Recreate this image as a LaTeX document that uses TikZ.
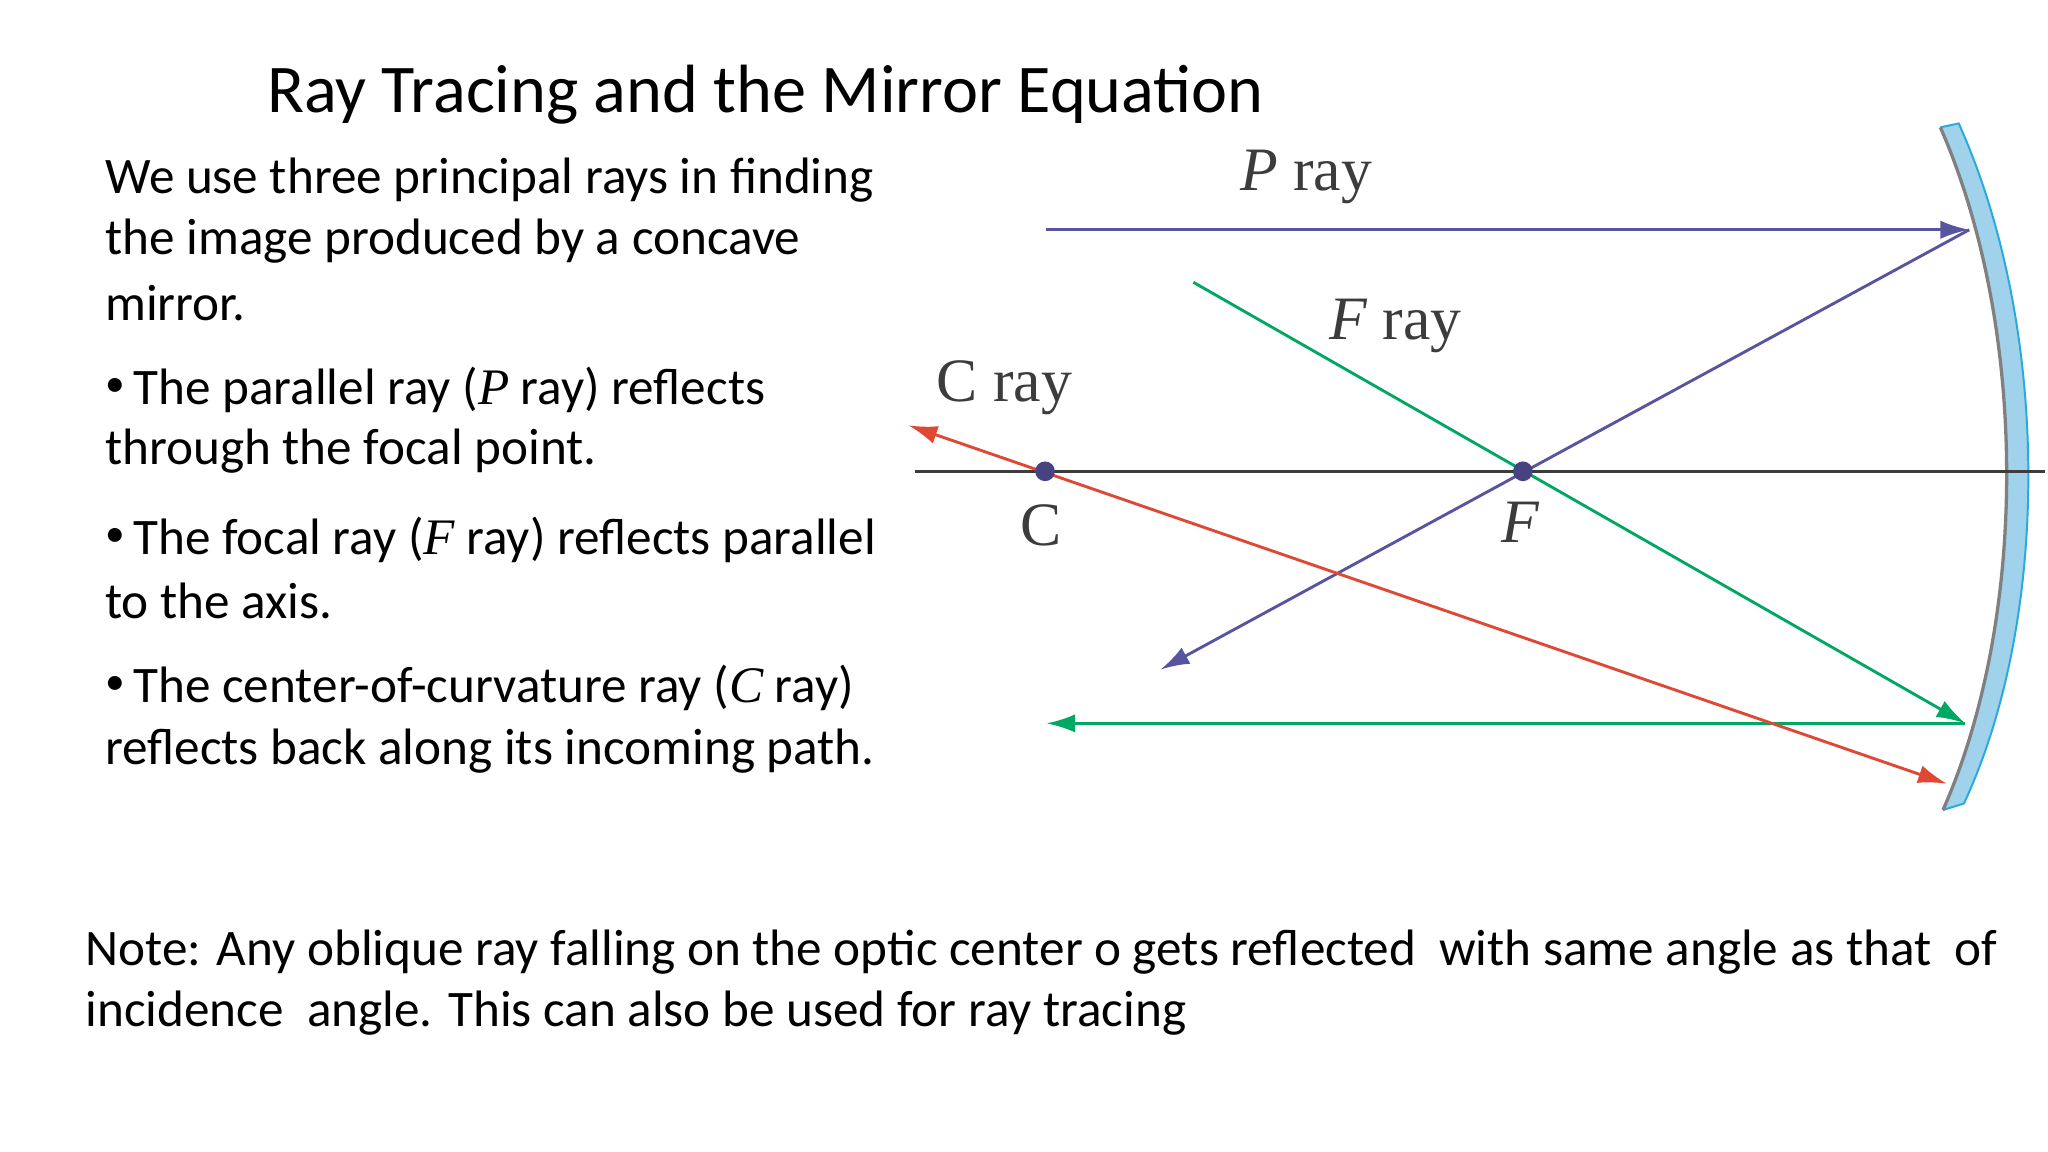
\documentclass[tikz,border=0pt]{standalone}
\usepackage{fontspec}
\setmainfont{Carlito}
\newfontfamily\serifl{Liberation Serif}
\usetikzlibrary{arrows.meta}
\definecolor{pray}{RGB}{88,84,160}
\definecolor{fray}{RGB}{0,168,100}
\definecolor{cray}{RGB}{222,72,52}
\definecolor{axisc}{RGB}{60,60,60}
\definecolor{mirfill}{RGB}{160,210,235}
\definecolor{miredge}{RGB}{40,170,220}
\newcommand{\bul}{\raisebox{6pt}{\fontsize{30}{30}\selectfont\textbullet}\,}
\tikzset{
 ray/.style={line width=2.2pt,-{Latex[length=22pt,width=14pt]}},
 body/.style={anchor=west,font=\fontsize{39}{44}\selectfont,inner sep=0pt},
 lab/.style={font=\serifl\fontsize{47}{50}\selectfont,text=axisc,inner sep=0pt},
 dot/.style={circle,fill=pray!80!black,inner sep=0pt,minimum size=15pt}
}
\begin{document}
\begin{tikzpicture}[x=1pt,y=-1pt]
\useasboundingbox (0,0) rectangle (1560,877.5);
\node[font=\fontsize{52}{56}\selectfont,inner sep=0pt] (title) at (583,72) {Ray Tracing and the Mirror Equation};
\node[body] (t1) at (80,137) {We use three principal rays in finding};
\node[body] (t2) at (80,184) {the image produced by a concave};
\node[body] (t3) at (80,231) {mirror.};
\node[body] (b1) at (80,297) {\bul The parallel ray ({\serifl\itshape P} ray) reflects};
\node[body] (b1b) at (80,344) {through the focal point.};
\node[body] (b2) at (80,411) {\bul The focal ray ({\serifl\itshape F} ray) reflects parallel};
\node[body] (b2b) at (80,458) {to the axis.};
\node[body] (b3) at (80,524) {\bul The center-of-curvature ray ({\serifl\itshape C} ray)};
\node[body] (b3b) at (80,572) {reflects back along its incoming path.};
\node[body] (n1) at (65,725) {Note: Any oblique ray falling on the optic center o gets reflected\ \ with same angle as that\ \ of};
\node[body] (n2) at (65,772) {incidence\ \ angle. This can also be used for ray tracing};
% mirror
\fill[mirfill] (1478,97) .. controls (1545,250) and (1545,470) .. (1480,617)
  -- (1496,612) .. controls (1562,470) and (1562,250) .. (1492,94) -- cycle;
\draw[miredge,line width=1.5pt] (1478,97) -- (1492,94) .. controls (1562,250) and (1562,470) .. (1496,612) -- (1480,617);
\draw[gray,line width=2.5pt] (1478,97) .. controls (1545,250) and (1545,470) .. (1480,617);
% axis
\coordinate (axL) at (697,359);
\coordinate (axR) at (1558,359);
\draw[axisc,line width=2pt] (axL) -- (axR);
\coordinate (P0) at (797,175);
\coordinate (P1) at (1500,175);
\coordinate (P2) at (884,510);
\coordinate (F0) at (909,215);
\coordinate (F1) at (1497,551);
\coordinate (F2) at (797,551);
\coordinate (C0) at (692,324);
\coordinate (C1) at (1483,597);
\draw[ray,pray] (P0) -- (P1);
\draw[ray,pray] (P1) -- (P2);
\draw[ray,fray] (F0) -- (F1);
\draw[ray,fray] (F1) -- (F2);
\draw[line width=2.2pt,cray,{Latex[length=22pt,width=14pt]}-{Latex[length=22pt,width=14pt]}] (C0) -- (C1);
\node[dot] (Cd) at (796,359) {};
\node[dot] (Fd) at (1160,359) {};
\node[lab] (Cl) at (793,400) {C};
\node[lab] (Fl) at (1158,398) {\itshape F};
\node[lab] (Pr) at (995,135) {{\itshape P} ray};
\node[lab] (Fr) at (1063,248) {{\itshape F} ray};
\node[lab] (Cr) at (765,295) {C ray};
\end{tikzpicture}
\end{document}
